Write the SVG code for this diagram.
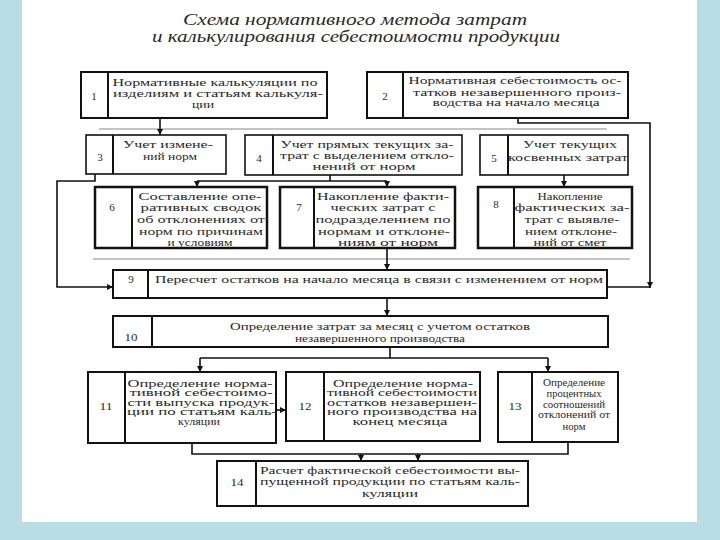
<svg xmlns="http://www.w3.org/2000/svg" width="720" height="540" viewBox="0 0 720 540">
<defs>
<marker id="arr" markerUnits="userSpaceOnUse" markerWidth="7" markerHeight="7" refX="6" refY="3" orient="auto">
<path d="M0,0 L6,3 L0,6 z" fill="#111"/>
</marker>
</defs>
<style>
.bx{fill:#fff;stroke:#111;stroke-width:2}
.bx2{fill:#fff;stroke:#111;stroke-width:2.5}
.bx1{fill:#fff;stroke:#111;stroke-width:1.6}
.dv{stroke:#111;stroke-width:2}
.t{font-family:"Liberation Serif","Times New Roman",serif;font-size:11px;fill:#2a2a2a;text-anchor:middle}
.s{font-size:10px}
.m{font-size:10.3px}
.ti{font-family:"Liberation Serif","Times New Roman",serif;font-size:16px;font-style:italic;fill:#2a2a2a;text-anchor:middle}
.c{stroke:#111;stroke-width:1.6;fill:none}
.rule{stroke:#8a8a8a;stroke-width:1.1;fill:none}
</style>
<rect x="0" y="0" width="720" height="540" fill="#b8dde4"/>
<rect x="22" y="0" width="675" height="522" fill="#ffffff"/>

<g id="title">
<text class="ti" x="355" y="25" textLength="344" lengthAdjust="spacingAndGlyphs">Схема нормативного метода затрат</text>
<text class="ti" x="356" y="42" textLength="408" lengthAdjust="spacingAndGlyphs">и калькулирования себестоимости продукции</text>
</g>

<g id="connectors">
<line class="rule" x1="99" y1="129" x2="607" y2="129"/>
<line class="rule" x1="93" y1="259" x2="630" y2="259"/>
<path class="c" d="M160,118 V135" marker-end="url(#arr)"/>
<path class="c" d="M518,118 V123 H650 V288" marker-end="url(#arr)"/>
<path class="c" d="M607,287 H650"/>
<path class="c" d="M95,174 V181 H57 V287 H113" marker-end="url(#arr)"/>
<path class="c" d="M330,175 V181"/>
<path class="c" d="M197,181 H387"/>
<path class="c" d="M197,181 V187" marker-end="url(#arr)"/>
<path class="c" d="M387,181 V187" marker-end="url(#arr)"/>
<path class="c" d="M564,175 V187" marker-end="url(#arr)"/>
<path class="c" d="M387,248 V270" marker-end="url(#arr)"/>
<path class="c" d="M387,298 V316" marker-end="url(#arr)"/>
<path class="c" d="M390,347 V358"/>
<path class="c" d="M200,358 H548"/>
<path class="c" d="M200,358 V372" marker-end="url(#arr)"/>
<path class="c" d="M548,358 V372" marker-end="url(#arr)"/>
<path class="c" d="M276,410 H286" marker-end="url(#arr)"/>
<path class="c" d="M192,443 V454 H568 V442"/>
<path class="c" d="M361,454 V461" marker-end="url(#arr)"/>
<path class="c" d="M418,454 V461" marker-end="url(#arr)"/>
</g>

<g id="n1">
<rect class="bx" x="81" y="72" width="246" height="46"/>
<line class="dv" x1="108" y1="72" x2="108" y2="118"/>
<text class="t" x="94" y="100">1</text>
<text class="t" x="215" y="86" textLength="205" lengthAdjust="spacingAndGlyphs">Нормативные калькуляции по</text>
<text class="t" x="218" y="97" textLength="210" lengthAdjust="spacingAndGlyphs">изделиям и статьям калькуля-</text>
<text class="t" x="203" y="107.5" textLength="22" lengthAdjust="spacingAndGlyphs">ции</text>
</g>

<g id="n2">
<rect class="bx" x="367" y="72" width="261" height="46"/>
<line class="dv" x1="403" y1="72" x2="403" y2="118"/>
<text class="t" x="385" y="99.5">2</text>
<text class="t m" x="515" y="84" textLength="213" lengthAdjust="spacingAndGlyphs">Нормативная себестоимость ос-</text>
<text class="t m" x="517" y="95.5" textLength="208" lengthAdjust="spacingAndGlyphs">татков незавершенного произ-</text>
<text class="t m" x="516" y="106" textLength="167" lengthAdjust="spacingAndGlyphs">водства на начало месяца</text>
</g>

<g id="n3">
<rect class="bx1" x="86" y="135" width="140" height="39"/>
<line class="dv" x1="113" y1="135" x2="113" y2="174"/>
<text class="t" x="100" y="161">3</text>
<text class="t" x="168" y="147.5" textLength="90" lengthAdjust="spacingAndGlyphs">Учет измене-</text>
<text class="t" x="170" y="159.5" textLength="54" lengthAdjust="spacingAndGlyphs">ний норм</text>
</g>

<g id="n4">
<rect class="bx1" x="245" y="135" width="217" height="40"/>
<line class="dv" x1="273" y1="135" x2="273" y2="175"/>
<text class="t" x="259" y="161.5">4</text>
<text class="t" x="367" y="147.5" textLength="173" lengthAdjust="spacingAndGlyphs">Учет прямых текущих за-</text>
<text class="t" x="367" y="158.5" textLength="174" lengthAdjust="spacingAndGlyphs">трат с выделением откло-</text>
<text class="t" x="364" y="169.5" textLength="103" lengthAdjust="spacingAndGlyphs">нений от норм</text>
</g>

<g id="n5">
<rect class="bx1" x="480" y="135" width="148" height="40"/>
<line class="dv" x1="508" y1="135" x2="508" y2="175"/>
<text class="t" x="494" y="162">5</text>
<text class="t" x="570" y="147.5" textLength="94" lengthAdjust="spacingAndGlyphs">Учет текущих</text>
<text class="t" x="568" y="160.5" textLength="120" lengthAdjust="spacingAndGlyphs">косвенных затрат</text>
</g>

<g id="n6">
<rect class="bx2" x="95" y="187" width="172" height="61"/>
<line class="dv" x1="132" y1="187" x2="132" y2="248"/>
<text class="t" x="112" y="211">6</text>
<text class="t" x="200" y="199.5" textLength="123" lengthAdjust="spacingAndGlyphs">Составление опе-</text>
<text class="t" x="201" y="211" textLength="121" lengthAdjust="spacingAndGlyphs">ративных сводок</text>
<text class="t" x="201" y="222.5" textLength="128" lengthAdjust="spacingAndGlyphs">об отклонениях от</text>
<text class="t" x="201" y="234.5" textLength="124" lengthAdjust="spacingAndGlyphs">норм по причинам</text>
<text class="t" x="200" y="246" textLength="65" lengthAdjust="spacingAndGlyphs">и условиям</text>
</g>

<g id="n7">
<rect class="bx2" x="280" y="187" width="175" height="61"/>
<line class="dv" x1="314" y1="187" x2="314" y2="248"/>
<text class="t" x="299" y="211">7</text>
<text class="t" x="383" y="199.5" textLength="132" lengthAdjust="spacingAndGlyphs">Накопление факти-</text>
<text class="t" x="383" y="211" textLength="105" lengthAdjust="spacingAndGlyphs">ческих затрат с</text>
<text class="t" x="383" y="222.5" textLength="135" lengthAdjust="spacingAndGlyphs">подразделением по</text>
<text class="t" x="384" y="234.5" textLength="132" lengthAdjust="spacingAndGlyphs">нормам и отклоне-</text>
<text class="t" x="388" y="246" textLength="100" lengthAdjust="spacingAndGlyphs">ниям от норм</text>
</g>

<g id="n8">
<rect class="bx2" x="478" y="187" width="154" height="61"/>
<line class="dv" x1="514" y1="187" x2="514" y2="248"/>
<text class="t" x="496" y="207.5">8</text>
<text class="t" x="570" y="199.5" textLength="65" lengthAdjust="spacingAndGlyphs">Накопление</text>
<text class="t" x="572" y="211" textLength="115" lengthAdjust="spacingAndGlyphs">фактических за-</text>
<text class="t" x="572" y="222.5" textLength="95" lengthAdjust="spacingAndGlyphs">трат с выявле-</text>
<text class="t" x="571" y="234.5" textLength="92" lengthAdjust="spacingAndGlyphs">нием отклоне-</text>
<text class="t" x="570" y="246" textLength="73" lengthAdjust="spacingAndGlyphs">ний от смет</text>
</g>

<g id="n9">
<rect class="bx" x="113" y="270" width="494" height="28"/>
<line class="dv" x1="148" y1="270" x2="148" y2="298"/>
<text class="t" x="131" y="282.5">9</text>
<text class="t" x="379" y="282.5" textLength="448" lengthAdjust="spacingAndGlyphs">Пересчет остатков на начало месяца в связи с изменением от норм</text>
</g>

<g id="n10">
<rect class="bx" x="113" y="316" width="495" height="31"/>
<line class="dv" x1="152" y1="316" x2="152" y2="347"/>
<text class="t" x="131" y="340.5" textLength="13" lengthAdjust="spacingAndGlyphs">10</text>
<text class="t" x="380" y="329.5" textLength="300" lengthAdjust="spacingAndGlyphs">Определение затрат за месяц с учетом остатков</text>
<text class="t" x="380" y="341.5" textLength="170" lengthAdjust="spacingAndGlyphs">незавершенного производства</text>
</g>

<g id="n11">
<rect class="bx" x="88" y="372" width="188" height="71"/>
<line class="dv" x1="125" y1="372" x2="125" y2="443"/>
<text class="t" x="106" y="409.5" textLength="13" lengthAdjust="spacingAndGlyphs">11</text>
<text class="t s" x="200" y="386.5" textLength="145" lengthAdjust="spacingAndGlyphs">Определение норма-</text>
<text class="t s" x="201" y="396" textLength="143" lengthAdjust="spacingAndGlyphs">тивной себестоимо-</text>
<text class="t s" x="201" y="405.5" textLength="147" lengthAdjust="spacingAndGlyphs">сти выпуска продук-</text>
<text class="t s" x="202" y="415" textLength="150" lengthAdjust="spacingAndGlyphs">ции по статьям каль-</text>
<text class="t s" x="199" y="425" textLength="42" lengthAdjust="spacingAndGlyphs">куляции</text>
</g>

<g id="n12">
<rect class="bx" x="286" y="372" width="194" height="69"/>
<line class="dv" x1="324" y1="372" x2="324" y2="441"/>
<text class="t" x="305" y="409.5" textLength="13" lengthAdjust="spacingAndGlyphs">12</text>
<text class="t s" x="403" y="386.5" textLength="140" lengthAdjust="spacingAndGlyphs">Определение норма-</text>
<text class="t s" x="402" y="396" textLength="150" lengthAdjust="spacingAndGlyphs">тивной себестоимости</text>
<text class="t s" x="402" y="405.5" textLength="150" lengthAdjust="spacingAndGlyphs">остатков незавершен-</text>
<text class="t s" x="402" y="415" textLength="150" lengthAdjust="spacingAndGlyphs">ного производства на</text>
<text class="t s" x="400" y="425" textLength="95" lengthAdjust="spacingAndGlyphs">конец месяца</text>
</g>

<g id="n13">
<rect class="bx" x="498" y="372" width="120" height="70"/>
<line class="dv" x1="532" y1="372" x2="532" y2="442"/>
<text class="t" x="515" y="409.5" textLength="13" lengthAdjust="spacingAndGlyphs">13</text>
<text class="t s" x="574" y="385.5" textLength="62" lengthAdjust="spacingAndGlyphs">Определение</text>
<text class="t s" x="574" y="396.5" textLength="55" lengthAdjust="spacingAndGlyphs">процентных</text>
<text class="t s" x="574" y="407.5" textLength="62" lengthAdjust="spacingAndGlyphs">соотношений</text>
<text class="t s" x="574" y="418" textLength="72" lengthAdjust="spacingAndGlyphs">отклонений от</text>
<text class="t s" x="574" y="429.5" textLength="23" lengthAdjust="spacingAndGlyphs">норм</text>
</g>

<g id="n14">
<rect class="bx" x="217" y="461" width="311" height="45"/>
<line class="dv" x1="256" y1="461" x2="256" y2="506"/>
<text class="t" x="237" y="485.5" textLength="13" lengthAdjust="spacingAndGlyphs">14</text>
<text class="t" x="390" y="473.5" textLength="260" lengthAdjust="spacingAndGlyphs">Расчет фактической себестоимости вы-</text>
<text class="t" x="390" y="485" textLength="260" lengthAdjust="spacingAndGlyphs">пущенной продукции по статьям каль-</text>
<text class="t" x="390" y="496.5" textLength="56" lengthAdjust="spacingAndGlyphs">куляции</text>
</g>
</svg>
